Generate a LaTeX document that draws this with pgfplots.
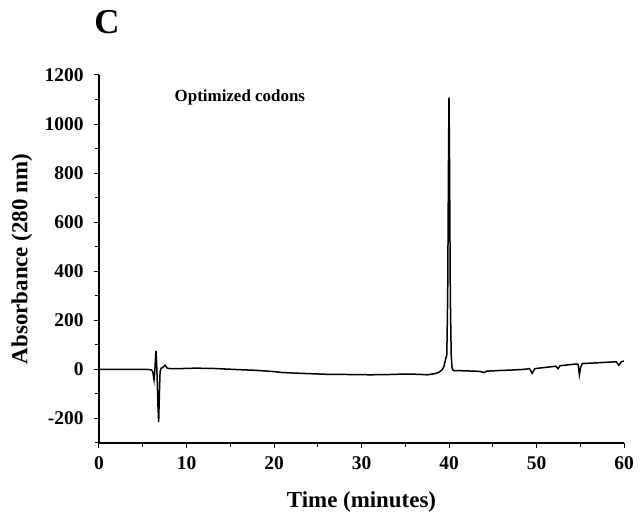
\documentclass[border=0pt]{standalone}
\usepackage{fontspec}
\setmainfont{Liberation Serif}
\usepackage{pgfplots}
\pgfplotsset{compat=1.18}
\begin{document}
\begin{tikzpicture}[x=1bp,y=1bp]
\useasboundingbox (-99,-86) rectangle (542,443);
\begin{axis}[
  at={(0,0)}, anchor=south west,
  scale only axis, width=525bp, height=368bp,
  xmin=0, xmax=60, ymin=-300, ymax=1200,
  axis x line*=bottom, axis y line*=left,
  axis line style={-, line width=1.1bp},
  tick align=outside,
  major tick length=5bp, minor tick length=4bp,
  every tick/.style={black, line width=1bp},
  xtick={0,10,20,30,40,50,60},
  xticklabels={0,10,20,30,40,50,60},
  minor xtick={5,15,25,35,45,55},
  ytick={-200,0,200,400,600,800,1000,1200},
  yticklabels={-200,0,200,400,600,800,1000,1200},
  minor ytick={-300,-100,100,300,500,700,900,1100},
  ticklabel style={font=\bfseries\fontsize{19.5}{22}\selectfont},
  yticklabel style={xshift=-7bp},
  xticklabel style={yshift=-5bp},
  xlabel={Time (minutes)},
  ylabel={Absorbance (280 nm)},
  label style={font=\bfseries\fontsize{23}{26}\selectfont},
  xlabel style={at={(axis description cs:0.5,-0.16)}, anchor=center},
  ylabel style={at={(axis description cs:-0.147,0.5)}, anchor=center},
  clip=false,
]
\addplot[black, line width=1.5bp] coordinates {
(0,0) (2,0) (4,0.5) (5.5,0) (6.0,-2) (6.15,-10) (6.29,-42) (6.38,-5)
(6.45,40) (6.51,75) (6.58,30) (6.65,-40) (6.74,-150) (6.82,-215) (6.9,-100)
(6.98,-10) (7.1,5) (7.3,8) (7.45,14) (7.54,17) (7.65,12) (7.8,5) (8.2,3)
(9,3) (11,5) (13,4) (16,-1) (18,-4) (20,-9) (21,-13) (23,-16) (26,-20)
(29,-21) (31,-22) (33,-21) (35,-19) (36.5,-20) (37.5,-22) (38.3,-18)
(38.8,-13) (39.2,-2) (39.4,10) (39.6,40) (39.75,60) (39.85,300) (39.95,900)
(40.0,1108) (40.05,900) (40.15,300) (40.25,60) (40.35,5) (40.5,-5) (41,-5)
(42,-6) (43.5,-8) (44.0,-13) (44.3,-7) (45,-6) (46,-4) (47,-3) (48.5,0)
(49.2,3) (49.5,-16) (49.8,3) (50.5,6) (51.5,10) (52.2,13) (52.45,3)
(52.7,15) (53.5,18) (54.5,22) (54.75,21) (54.9,-22) (55.05,10) (55.25,24)
(56.5,26) (58,29) (59.1,31) (59.4,17) (59.7,31) (60,34)
};
\node[font=\bfseries\fontsize{17}{20}\selectfont] at (axis cs:16.1,1110) {Optimized codons};
\end{axis}
\node[font=\bfseries\fontsize{35}{40}\selectfont] at (8,421) {C};
\end{tikzpicture}
\end{document}
